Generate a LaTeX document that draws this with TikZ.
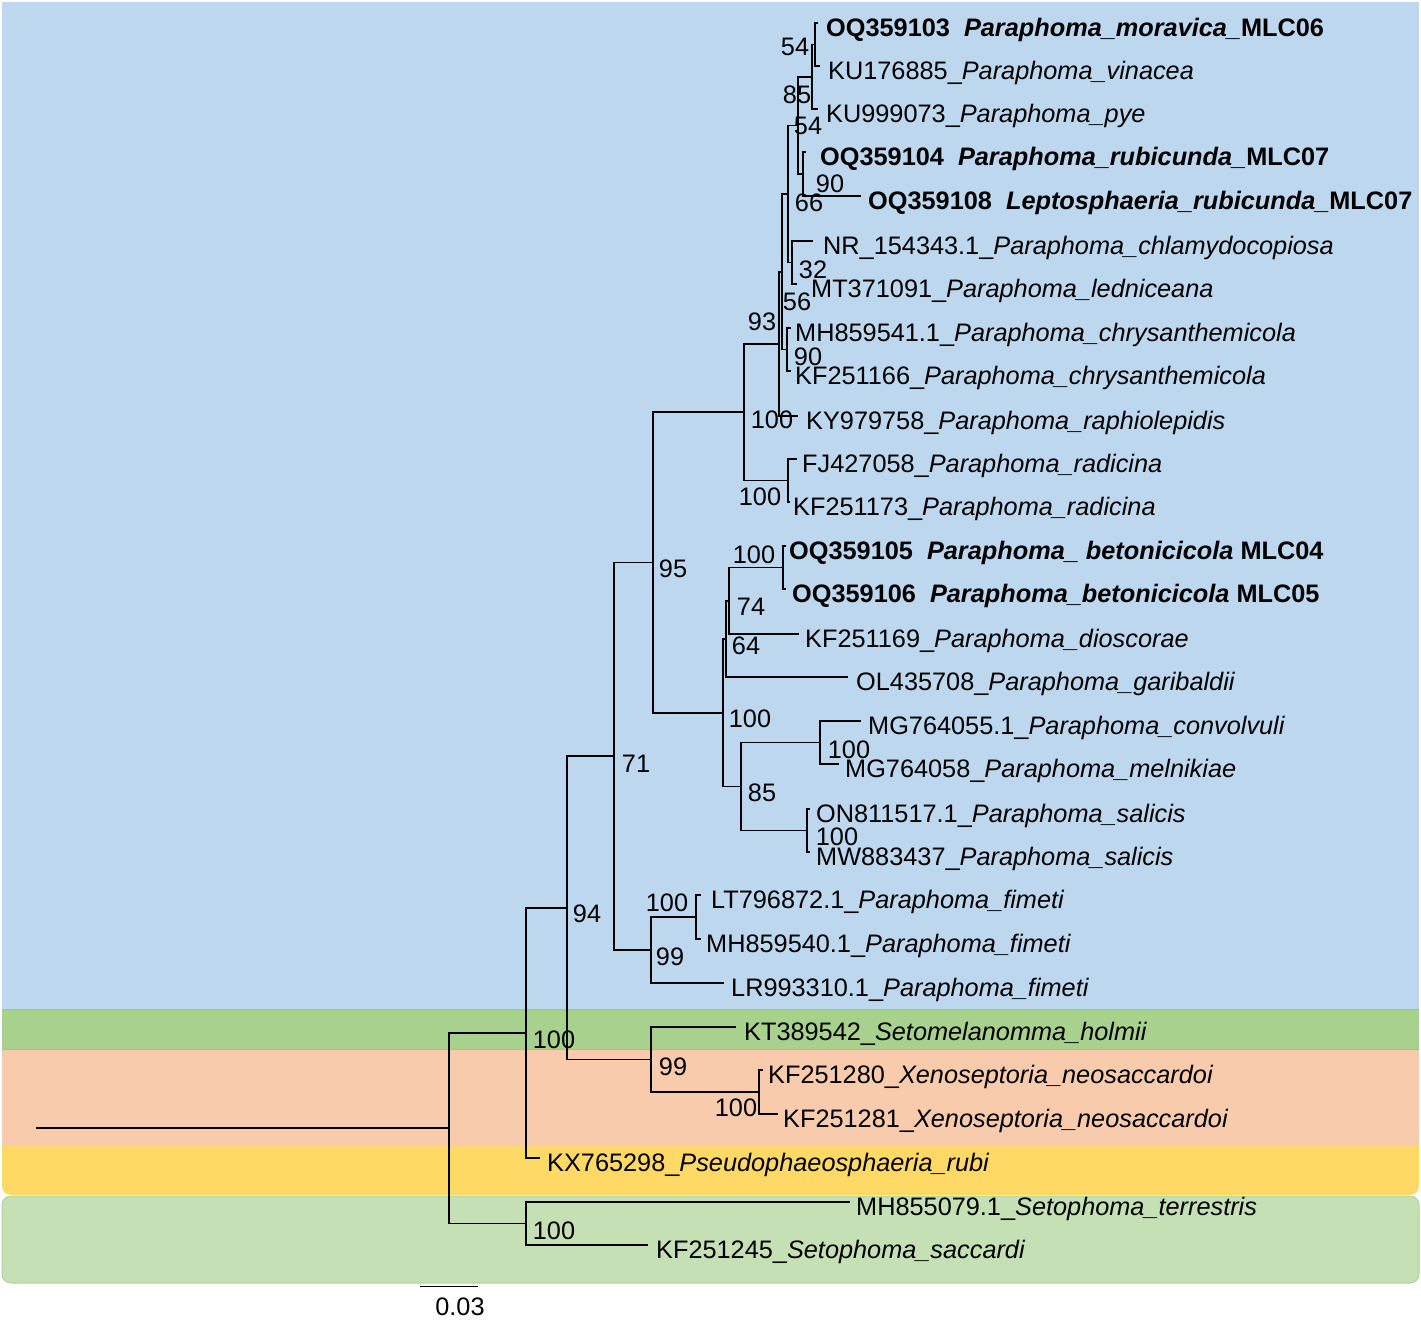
\documentclass[tikz,border=0pt]{standalone}
\usepackage{fontspec}
\setmainfont{Liberation Sans}
\usepackage{tikz}
\usetikzlibrary{positioning}
\definecolor{cladeBlue}{HTML}{BDD7EE}
\definecolor{cladeGreen}{HTML}{A9D18E}
\definecolor{cladeGreenEdge}{HTML}{97C977}
\definecolor{cladeSalmon}{HTML}{F8CBAD}
\definecolor{cladeYellow}{HTML}{FFD966}
\definecolor{cladeSage}{HTML}{C5E0B4}
\definecolor{cladeSageEdge}{HTML}{ADD597}

\begin{document}
\begin{tikzpicture}[
  x=1pt, y=-1pt,
  % Styles
  band/.style={fill=#1, draw=none},
  branch/.style={line width=1.6pt, black},
  leaf/.style={
    font=\fontsize{25.3}{30}\selectfont, inner sep=0pt,
    text height=18pt, text depth=5pt, yshift=-7pt
  },
  boot/.style={font=\fontsize{25.3}{30}\selectfont, inner sep=0pt},
]
\useasboundingbox (0,0) rectangle (1421,1323);

% === CLADE BANDS ===
\fill[band=cladeSage, rounded corners=9pt] (2,1196) rectangle (1419,1283);
\draw[cladeSageEdge, line width=1pt, rounded corners=9pt] (2,1196) rectangle (1419,1283);
\fill[band=cladeYellow, rounded corners=9pt] (2,1120) rectangle (1419,1195);
\fill[band=cladeSalmon] (2,1049) rectangle (1419,1146);
\fill[band=cladeGreen] (2,1009) rectangle (1419,1049);
\draw[cladeGreenEdge, line width=1pt] (2,1009) -- (1419,1009) (2,1049) -- (1419,1049);
\fill[band=cladeBlue] (2,2) rectangle (1419,1009);

% === TIPS ===
\coordinate (t1) at (818,23);
\coordinate (t2) at (820,66);
\coordinate (t3) at (818,109);
\coordinate (t4) at (806,152);
\coordinate (t5) at (861,196);
\coordinate (t6) at (813,241);
\coordinate (t7) at (797,284);
\coordinate (t8) at (791,328);
\coordinate (t9) at (791,371);
\coordinate (t10) at (798,416);
\coordinate (t11) at (797,459);
\coordinate (t12) at (790,502);
\coordinate (t13) at (786,546);
\coordinate (t14) at (786,589);
\coordinate (t15) at (799,634);
\coordinate (t16) at (848,677);
\coordinate (t17) at (861,721);
\coordinate (t18) at (839,764);
\coordinate (t19) at (810,809);
\coordinate (t20) at (810,852);
\coordinate (t21) at (701,895);
\coordinate (t22) at (701,939);
\coordinate (t23) at (724,983);
\coordinate (t24) at (736,1027);
\coordinate (t25) at (763,1070);
\coordinate (t26) at (778,1114);
\coordinate (t27) at (540,1158);
\coordinate (t28) at (850,1202);
\coordinate (t29) at (648,1245);

% === INNER NODES ===
\coordinate (moravicaN) at (815,44.5);
\coordinate (pyeN) at (812,76.8);
\coordinate (rubicundaN) at (803,174);
\coordinate (mlcN) at (798,125.4);
\coordinate (ledniceanaN) at (792,262.5);
\coordinate (upperN) at (788,194);
\coordinate (chrysN) at (787,349.5);
\coordinate (coreN) at (782,271.7);
\coordinate (raphioN) at (779,343.9);
\coordinate (radicinaN) at (788,480.5);
\coordinate (paraAN) at (744,412.2);
\coordinate (betonN) at (783,567.5);
\coordinate (dioscN) at (729,600.7);
\coordinate (gariN) at (726,638.9);
\coordinate (convN) at (820,742.5);
\coordinate (salicisN) at (807,830.5);
\coordinate (convsalN) at (741,786.5);
\coordinate (paraBN) at (723,712.7);
\coordinate (paraN) at (653,562.5);
\coordinate (fimetiN) at (696,917);
\coordinate (fimetiAllN) at (651,950);
\coordinate (paraphomaN) at (614,756.2);
\coordinate (xenoN) at (759,1092);
\coordinate (setomelN) at (651,1059.5);
\coordinate (ingroupN) at (567,907.9);
\coordinate (pseudoN) at (526,1033);
\coordinate (setophomaN) at (526,1223.5);
\coordinate (rootN) at (449,1128.2);
\coordinate (rootEnd) at (36,1128.2);

% === BRANCHES ===
\draw[branch] (rootEnd) -- (rootN);
\draw[branch] (rootN) |- (pseudoN) (rootN) |- (setophomaN);
\draw[branch] (setophomaN) |- (t28) (setophomaN) |- (t29);
\draw[branch] (pseudoN) |- (ingroupN) (pseudoN) |- (t27);
\draw[branch] (ingroupN) |- (paraphomaN) (ingroupN) |- (setomelN);
\draw[branch] (setomelN) |- (t24) (setomelN) |- (xenoN);
\draw[branch] (xenoN) |- (t25) (xenoN) |- (t26);
\draw[branch] (paraphomaN) |- (paraN) (paraphomaN) |- (fimetiAllN);
\draw[branch] (fimetiAllN) |- (fimetiN) (fimetiAllN) |- (t23);
\draw[branch] (fimetiN) |- (t21) (fimetiN) |- (t22);
\draw[branch] (paraN) |- (paraAN) (paraN) |- (paraBN);
\draw[branch] (paraBN) |- (gariN) (paraBN) |- (convsalN);
\draw[branch] (convsalN) |- (convN) (convsalN) |- (salicisN);
\draw[branch] (convN) |- (t17) (convN) |- (t18);
\draw[branch] (salicisN) |- (t19) (salicisN) |- (t20);
\draw[branch] (gariN) |- (dioscN) (gariN) |- (t16);
\draw[branch] (dioscN) |- (betonN) (dioscN) |- (t15);
\draw[branch] (betonN) |- (t13) (betonN) |- (t14);
\draw[branch] (paraAN) |- (raphioN) (paraAN) |- (radicinaN);
\draw[branch] (radicinaN) |- (t11) (radicinaN) |- (t12);
\draw[branch] (raphioN) |- (coreN) (raphioN) |- (t10);
\draw[branch] (coreN) |- (upperN) (coreN) |- (chrysN);
\draw[branch] (chrysN) |- (t8) (chrysN) |- (t9);
\draw[branch] (upperN) |- (mlcN) (upperN) |- (ledniceanaN);
\draw[branch] (ledniceanaN) |- (t6) (ledniceanaN) |- (t7);
\draw[branch] (mlcN) |- (pyeN) (mlcN) |- (rubicundaN);
\draw[branch] (rubicundaN) |- (t4) (rubicundaN) |- (t5);
\draw[branch] (pyeN) |- (moravicaN) (pyeN) |- (t3);
\draw[branch] (moravicaN) |- (t1) (moravicaN) |- (t2);

% === TAXON LABELS ===
\node[leaf, right=8pt of t1] (l1) {\textbf{OQ359103\ \ \textit{Paraphoma\_moravica\_}MLC06}};
\node[leaf, right=8pt of t2] (l2) {KU176885\_\textit{Paraphoma\_vinacea}};
\node[leaf, right=8pt of t3] (l3) {KU999073\_\textit{Paraphoma\_pye}};
\node[leaf, right=14pt of t4] (l4) {\textbf{OQ359104\ \ \textit{Paraphoma\_rubicunda\_}MLC07}};
\node[leaf, right=7pt of t5] (l5) {\textbf{OQ359108\ \ \textit{Leptosphaeria\_rubicunda\_}MLC07}};
\node[leaf, right=10pt of t6] (l6) {NR\_154343.1\_\textit{Paraphoma\_chlamydocopiosa}};
\node[leaf, right=14pt of t7] (l7) {MT371091\_\textit{Paraphoma\_ledniceana}};
\node[leaf, right=4pt of t8] (l8) {MH859541.1\_\textit{Paraphoma\_chrysanthemicola}};
\node[leaf, right=4pt of t9] (l9) {KF251166\_\textit{Paraphoma\_chrysanthemicola}};
\node[leaf, right=8pt of t10] (l10) {KY979758\_\textit{Paraphoma\_raphiolepidis}};
\node[leaf, right=5pt of t11] (l11) {FJ427058\_\textit{Paraphoma\_radicina}};
\node[leaf, right=3pt of t12] (l12) {KF251173\_\textit{Paraphoma\_radicina}};
\node[leaf, right=3pt of t13] (l13) {\textbf{OQ359105\ \ \textit{Paraphoma\_ betonicicola} MLC04}};
\node[leaf, right=6pt of t14] (l14) {\textbf{OQ359106\ \ \textit{Paraphoma\_betonicicola} MLC05}};
\node[leaf, right=6pt of t15] (l15) {KF251169\_\textit{Paraphoma\_dioscorae}};
\node[leaf, right=8pt of t16] (l16) {OL435708\_\textit{Paraphoma\_garibaldii}};
\node[leaf, right=7pt of t17] (l17) {MG764055.1\_\textit{Paraphoma\_convolvuli}};
\node[leaf, right=6pt of t18] (l18) {MG764058\_\textit{Paraphoma\_melnikiae}};
\node[leaf, right=6pt of t19] (l19) {ON811517.1\_\textit{Paraphoma\_salicis}};
\node[leaf, right=6pt of t20] (l20) {MW883437\_\textit{Paraphoma\_salicis}};
\node[leaf, right=10pt of t21] (l21) {LT796872.1\_\textit{Paraphoma\_fimeti}};
\node[leaf, right=5pt of t22] (l22) {MH859540.1\_\textit{Paraphoma\_fimeti}};
\node[leaf, right=7pt of t23] (l23) {LR993310.1\_\textit{Paraphoma\_fimeti}};
\node[leaf, right=8pt of t24] (l24) {KT389542\_\textit{Setomelanomma\_holmii}};
\node[leaf, right=5pt of t25] (l25) {KF251280\_\textit{Xenoseptoria\_neosaccardoi}};
\node[leaf, right=5pt of t26] (l26) {KF251281\_\textit{Xenoseptoria\_neosaccardoi}};
\node[leaf, right=7pt of t27] (l27) {KX765298\_\textit{Pseudophaeosphaeria\_rubi}};
\node[leaf, right=6pt of t28] (l28) {MH855079.1\_\textit{Setophoma\_terrestris}};
\node[leaf, right=8pt of t29] (l29) {KF251245\_\textit{Setophoma\_saccardi}};

% === BOOTSTRAP VALUES ===
\node[boot] (b1) at (795,47) {54};
\node[boot] (b2) at (797,95) {85};
\node[boot] (b3) at (808,126) {54};
\node[boot] (b4) at (830,184) {90};
\node[boot] (b5) at (809,203) {66};
\node[boot] (b6) at (813,270) {32};
\node[boot] (b7) at (797,302) {56};
\node[boot] (b8) at (762,322) {93};
\node[boot] (b9) at (808,357) {90};
\node[boot] (b10) at (772,420) {100};
\node[boot] (b11) at (760,497) {100};
\node[boot] (b12) at (754,555) {100};
\node[boot] (b13) at (673,569) {95};
\node[boot] (b14) at (751,607) {74};
\node[boot] (b15) at (746,646) {64};
\node[boot] (b16) at (750,719) {100};
\node[boot] (b17) at (849,750) {100};
\node[boot] (b18) at (636,764) {71};
\node[boot] (b19) at (762,793) {85};
\node[boot] (b20) at (837,837) {100};
\node[boot] (b21) at (667,903) {100};
\node[boot] (b22) at (587,914) {94};
\node[boot] (b23) at (670,957) {99};
\node[boot] (b24) at (554,1040) {100};
\node[boot] (b25) at (673,1067) {99};
\node[boot] (b26) at (736,1108) {100};
\node[boot] (b27) at (554,1231) {100};

% === SCALE BAR ===
\coordinate (scaleL) at (420,1286);
\coordinate (scaleR) at (478,1286);
\draw[line width=1pt] (scaleL) -- (scaleR);
\node[boot] (scaleLab) at (460,1307) {0.03};

\end{tikzpicture}
\end{document}
